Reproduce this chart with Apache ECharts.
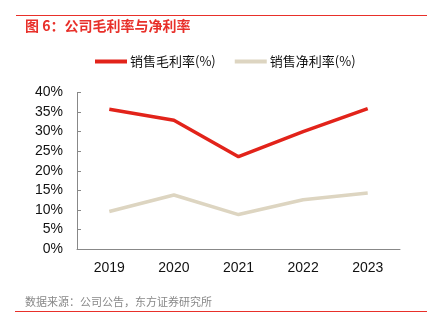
<!DOCTYPE html>
<html><head><meta charset="utf-8">
<script src="https://cdn.jsdelivr.net/npm/echarts@6/dist/echarts.min.js"></script>
<style>html,body{margin:0;padding:0;background:#fff;}#c{width:437px;height:325px;}</style>
</head><body><div id="c"></div>
<script>
var categories = ['2019','2020','2021','2022','2023'];
var grossMargin = [35.7, 32.9, 23.6, 30.0, 35.9];
var netMargin = [9.6, 13.8, 8.8, 12.6, 14.3];
var yTicks = [0, 5, 10, 15, 20, 25, 30, 35, 40];

var chart = echarts.init(document.getElementById('c'));
chart.setOption({
  animation: false,
  graphic: [
    {type:'line', shape:{x1:16,y1:15.5,x2:427,y2:15.5}, style:{stroke:'#E8302A', lineWidth:1}},
    {type:'text', left:25, top:19, style:{text:'图 6：公司毛利率与净利率', fill:'#E8302A', font:'bold 14px "Noto Sans CJK SC"'}},
    {type:'text', left:25, top:296, style:{text:'数据来源：公司公告，东方证券研究所', fill:'#888888', font:'11px "Noto Sans CJK SC"'}},
    {type:'line', shape:{x1:15,y1:311.5,x2:427,y2:311.5}, style:{stroke:'#E8302A', lineWidth:1}}
  ],
  legend: {
    top: 50, left: 90,
    itemWidth: 32, itemHeight: 4, itemGap: 19,
    icon: 'rect',
    textStyle: {fontSize: 13, color: '#111', fontFamily: '"Noto Sans CJK SC"', padding:[0,0,0,-2]},
    data: ['销售毛利率(%)', '销售净利率(%)']
  },
  grid: {left: 77, right: 37, top: 92.5, bottom: 76},
  xAxis: {
    type: 'category', data: categories, boundaryGap: true,
    axisLine: {lineStyle: {color: '#888'}},
    axisTick: {inside: true, length: 4, lineStyle: {color: '#888'}},
    axisLabel: {color: '#111', fontSize: 14, fontFamily: 'Liberation Sans, Arial', margin: 12}
  },
  yAxis: {
    type: 'value', min: yTicks[0], max: yTicks[yTicks.length-1], interval: 5,
    axisLine: {show: true, lineStyle: {color: '#888'}},
    axisTick: {show: true, inside: true, length: 4, lineStyle: {color: '#888'}},
    splitLine: {show: false},
    axisLabel: {color: '#111', fontSize: 14, fontFamily: 'Liberation Sans, Arial', margin: 14, formatter: '{value}%'}
  },
  series: [
    {name: '销售毛利率(%)', type: 'line', data: grossMargin, symbol: 'none',
     lineStyle: {color: '#E2231A', width: 3.5}, itemStyle: {color: '#E2231A'}},
    {name: '销售净利率(%)', type: 'line', data: netMargin, symbol: 'none',
     lineStyle: {color: '#DDD5C1', width: 3.5}, itemStyle: {color: '#DDD5C1'}}
  ]
});
</script></body></html>
